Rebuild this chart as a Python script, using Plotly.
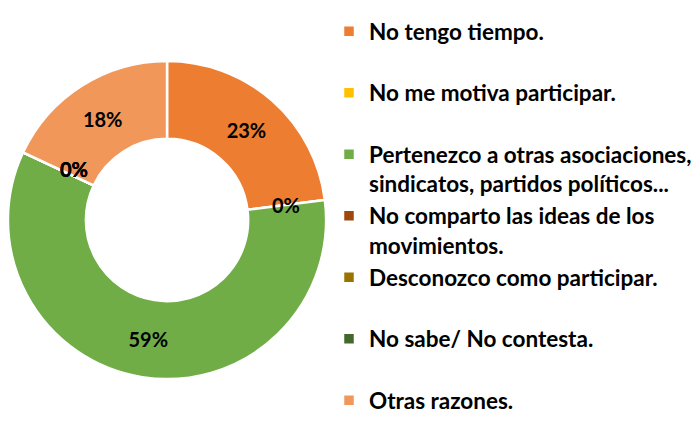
import math
import plotly.graph_objects as go

labels = [
    "No tengo tiempo.",
    "No me motiva participar.",
    "Pertenezco a otras asociaciones,<br>sindicatos, partidos políticos...",
    "No comparto las ideas de los<br>movimientos.",
    "Desconozco como participar.",
    "No sabe/ No contesta.",
    "Otras razones.",
]
values = [23, 0, 59, 0, 0, 0, 18]
colors = ["#ED7D31", "#FFC000", "#70AD47", "#9E480E", "#997300", "#43682B", "#F1975A"]

# pad single-line legend entries (except the last) so entries take equal slots
legend_labels = [
    l if ("<br>" in l or i == len(labels) - 1) else l + "<br> "
    for i, l in enumerate(labels)
]

W, H = 697, 426
HOLE = 0.51
dom_x = [8 / W, 328 / W]
dom_y = [(H - 380) / H, (H - 60) / H]
label_font = dict(family="Lato", size=20, color="black", weight="bold")

fig = go.Figure(go.Pie(
    labels=legend_labels,
    values=values,
    sort=False,
    direction="clockwise",
    rotation=0,
    hole=HOLE,
    marker=dict(colors=colors, line=dict(color="white", width=2.5)),
    texttemplate="%{percent:.0%}",
    textposition="inside",
    insidetextorientation="horizontal",
    textfont=label_font,
    hoverinfo="label+percent",
    domain=dict(x=dom_x, y=dom_y),
))

# zero-valued slices get no inside text from the library; label them at their
# (zero-width) slice position on the ring
total = sum(values)
cx = (dom_x[0] + dom_x[1]) / 2 * W
cy = (dom_y[0] + dom_y[1]) / 2 * H
R = min((dom_x[1] - dom_x[0]) * W, (dom_y[1] - dom_y[0]) * H) / 2
rm = R * (1 + HOLE) / 2
cum = 0
for v in values:
    if v == 0:
        a = 2 * math.pi * cum / total
        fig.add_annotation(
            x=(cx + rm * math.sin(a)) / W, y=(cy + rm * math.cos(a)) / H,
            xref="paper", yref="paper", showarrow=False,
            text=f"{v / total:.0%}", font=label_font,
        )
    cum += v

fig.update_layout(
    width=W, height=H,
    margin=dict(l=0, r=0, t=0, b=0),
    paper_bgcolor="white",
    plot_bgcolor="white",
    showlegend=True,
    legend=dict(
        x=331 / W, xanchor="left",
        y=1 - 10 / H, yanchor="top",
        valign="top",
        font=dict(family="Lato", size=22.5, color="black", weight="bold"),
        bgcolor="rgba(0,0,0,0)",
    ),
)

fig.write_html(
    "out.html",
    config={"displayModeBar": False},
    post_script="document.body.style.margin='0';",
)
